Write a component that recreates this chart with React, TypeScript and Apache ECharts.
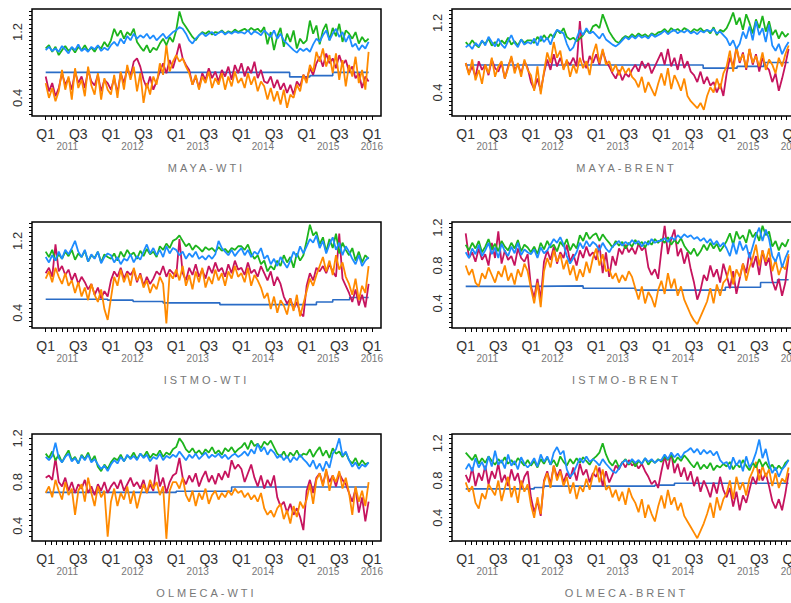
import React, { useEffect, useRef } from 'react';
import * as echarts from 'echarts';

// sample times (fractional years), one every 0.05 year from 2011.00 to 2015.95
const years: number[] = Array.from({ length: 100 }, (_, i) => 2011 + i * 0.05);

// ---------- MAYA-WTI ----------
const mayaWtiGreen = [
  1.00,1.04,0.96,1.02,0.92,0.98,1.03,0.97,1.01,0.95,1.02,0.98,1.04,0.97,1.01,0.96,1.03,1.00,1.08,1.02,
  1.10,1.24,1.15,1.22,1.12,1.20,1.16,1.24,1.08,1.02,0.97,1.04,0.95,1.01,0.98,1.06,1.12,1.04,1.14,1.08,
  1.22,1.45,1.32,1.26,1.20,1.14,1.10,1.16,1.20,1.18,1.21,1.17,1.20,1.19,1.22,1.18,1.21,1.19,1.23,1.20,
  1.22,1.24,1.21,1.25,1.22,1.24,1.20,1.26,1.05,1.20,0.98,1.15,1.25,1.02,1.18,1.08,1.22,1.00,1.12,1.06,
  1.10,1.34,1.18,1.28,1.05,1.22,1.30,1.10,1.25,1.15,1.30,1.08,1.22,1.18,1.12,1.20,1.06,1.14,1.08,1.12];
const mayaWtiBlue = [
  0.98,1.02,0.97,1.00,0.96,1.03,0.99,0.94,1.02,0.98,1.05,0.97,1.00,0.96,1.02,0.99,1.04,0.97,1.01,0.98,
  1.04,1.08,1.03,1.12,1.06,1.15,1.10,1.18,1.12,1.16,1.13,1.18,1.12,1.16,1.10,1.14,1.18,1.12,1.16,1.20,
  1.22,1.26,1.24,1.18,1.10,1.06,1.12,1.16,1.19,1.15,1.18,1.20,1.16,1.19,1.21,1.17,1.20,1.18,1.21,1.19,
  1.20,1.18,1.22,1.17,1.21,1.19,1.16,1.22,1.18,1.14,1.22,1.12,1.18,1.10,1.06,1.02,0.98,0.95,1.00,0.97,
  1.00,0.96,1.05,1.12,1.08,1.16,1.22,1.10,1.18,1.24,1.14,1.20,1.08,1.16,1.02,1.06,0.98,1.04,1.00,1.08];
const mayaWtiMagenta = [
  0.66,0.48,0.58,0.42,0.52,0.70,0.56,0.64,0.50,0.72,0.58,0.66,0.52,0.74,0.60,0.55,0.68,0.48,0.62,0.58,
  0.50,0.64,0.46,0.70,0.58,0.76,0.66,0.84,0.88,0.78,0.62,0.52,0.66,0.50,0.60,0.72,0.82,0.70,0.86,0.76,
  0.90,1.06,0.88,0.80,0.74,0.56,0.66,0.52,0.70,0.62,0.76,0.64,0.72,0.60,0.74,0.66,0.78,0.62,0.80,0.70,
  0.82,0.66,0.78,0.70,0.84,0.64,0.74,0.60,0.58,0.66,0.52,0.62,0.50,0.58,0.46,0.56,0.44,0.60,0.54,0.68,
  0.62,0.76,0.68,0.82,0.90,0.78,0.94,0.82,0.88,0.76,0.92,0.80,0.86,0.72,0.78,0.64,0.70,0.52,0.66,0.60];
const mayaWtiOrange = [
  0.58,0.40,0.52,0.36,0.48,0.74,0.50,0.66,0.38,0.76,0.52,0.62,0.42,0.78,0.55,0.44,0.70,0.38,0.64,0.50,
  0.44,0.68,0.40,0.72,0.50,0.80,0.62,0.78,0.48,0.70,0.34,0.58,0.44,0.66,0.56,0.82,0.68,1.04,0.72,0.84,
  0.92,0.84,0.88,0.78,0.70,0.56,0.68,0.50,0.66,0.58,0.72,0.52,0.64,0.56,0.70,0.50,0.66,0.54,0.72,0.58,
  0.64,0.52,0.70,0.56,0.66,0.48,0.60,0.54,0.38,0.52,0.36,0.48,0.32,0.50,0.28,0.44,0.40,0.56,0.48,0.68,
  0.58,0.80,0.72,0.96,0.84,1.00,0.78,0.92,0.70,0.94,0.62,0.86,0.54,0.80,0.66,0.90,0.58,0.74,0.50,0.96];
const mayaWtiFlat = [[2011, 0.71], [2014.74, 0.655], [2015.05, 0.67], [2015.4, 0.71], [2015.95, 0.71]];

// ---------- MAYA-BRENT ----------
const mayaBrentGreen = [
  0.98,0.94,1.00,0.95,0.92,0.99,0.96,1.02,0.94,0.98,0.93,1.00,0.96,1.03,0.95,0.99,0.94,1.01,0.97,1.00,
  1.00,0.97,1.04,0.99,1.06,1.01,1.07,1.03,1.12,1.08,1.14,1.04,1.01,1.03,0.99,1.02,1.06,1.12,1.08,1.16,
  1.18,1.14,1.30,1.20,1.10,1.04,0.99,0.97,1.02,1.05,1.03,1.07,1.04,1.08,1.05,1.07,1.04,1.08,1.06,1.09,
  1.10,1.13,1.09,1.14,1.11,1.13,1.10,1.14,1.12,1.09,1.13,1.11,1.14,1.10,1.12,1.08,1.15,1.06,1.12,1.10,
  1.14,1.22,1.32,1.18,1.26,1.12,1.30,1.20,1.08,1.24,1.14,1.28,1.10,1.22,1.06,1.12,1.02,1.10,1.04,1.08];
const mayaBrentBlue = [
  0.92,0.95,0.90,0.97,0.93,1.00,0.94,1.04,0.98,0.93,1.02,0.95,0.91,0.99,1.06,0.97,0.92,1.01,0.95,0.98,
  0.96,1.02,0.94,1.05,0.98,1.03,0.95,1.06,1.12,1.10,1.08,0.96,0.88,0.92,1.02,1.12,1.06,1.14,1.08,1.10,
  1.06,1.02,1.08,1.01,0.98,0.95,0.93,0.96,1.00,1.04,1.01,1.05,1.02,1.06,1.03,1.05,1.02,1.07,1.04,1.06,
  1.08,1.11,1.07,1.10,1.12,1.08,1.11,1.09,1.12,1.08,1.10,1.07,1.11,1.09,1.12,1.10,1.13,1.08,1.10,1.06,
  1.02,0.94,1.00,0.90,0.96,1.10,1.02,1.16,1.00,1.22,1.06,1.14,0.98,1.18,0.94,0.88,0.96,0.84,0.92,0.98];
const mayaBrentMagenta = [
  0.74,0.62,0.70,0.58,0.76,0.66,0.72,0.60,0.78,0.68,0.64,0.74,0.56,0.70,0.80,0.66,0.72,0.62,0.76,0.68,
  0.52,0.44,0.56,0.42,0.62,0.78,0.66,0.84,0.70,0.80,0.68,0.76,0.72,0.80,0.70,1.22,0.78,0.68,0.82,0.74,
  0.84,0.72,0.88,0.76,0.70,0.62,0.56,0.66,0.54,0.62,0.58,0.66,0.72,0.64,0.76,0.68,0.74,0.62,0.70,0.78,
  0.86,0.72,0.90,0.70,0.80,0.66,0.84,0.68,0.76,0.64,0.60,0.52,0.64,0.50,0.58,0.48,0.52,0.40,0.50,0.36,
  0.62,0.80,0.70,0.92,0.74,0.86,0.66,0.90,0.72,0.84,0.64,0.80,0.70,0.66,0.52,0.62,0.42,0.56,0.72,0.90];
const mayaBrentOrange = [
  0.74,0.60,0.78,0.54,0.66,0.50,0.72,0.62,0.80,0.58,0.70,0.76,0.56,0.68,0.82,0.62,0.74,0.58,0.78,0.66,
  0.60,0.42,0.70,0.38,0.64,0.86,0.74,0.98,0.80,0.88,0.66,0.78,0.58,0.72,0.62,0.80,0.68,0.76,0.60,0.84,
  0.96,0.74,0.90,0.72,0.76,0.64,0.72,0.60,0.70,0.62,0.68,0.58,0.54,0.46,0.58,0.40,0.52,0.44,0.36,0.50,
  0.62,0.48,0.68,0.44,0.60,0.52,0.42,0.56,0.36,0.30,0.26,0.22,0.28,0.20,0.36,0.46,0.40,0.56,0.44,0.62,
  0.70,0.88,0.64,0.92,0.76,0.84,0.68,0.90,0.74,0.82,0.70,0.86,0.66,0.78,0.72,0.62,0.80,0.70,0.84,0.94];
const mayaBrentFlat = [[2011, 0.717], [2014.64, 0.68], [2015.16, 0.70], [2015.57, 0.745], [2015.95, 0.745]];

// ---------- ISTMO-WTI ----------
const istmoWtiGreen = [
  1.08,1.02,1.10,0.98,1.05,1.00,1.08,1.03,1.10,0.99,1.06,1.02,1.09,0.97,1.04,1.01,1.08,0.96,1.05,1.02,
  1.00,1.06,0.98,1.08,1.02,1.10,1.04,1.07,1.00,1.09,1.03,1.11,1.05,1.08,1.02,1.14,1.10,1.17,1.12,1.20,
  1.22,1.26,1.20,1.14,1.17,1.10,1.15,1.12,1.08,1.13,1.10,1.12,1.08,1.13,1.09,1.11,1.07,1.12,1.10,1.14,
  1.14,1.10,1.16,1.06,1.00,1.04,0.94,0.98,0.86,0.92,0.88,0.98,0.92,1.04,0.96,1.02,0.90,1.06,0.98,1.04,
  1.20,1.38,1.26,1.30,1.16,1.24,1.08,1.22,1.12,1.28,1.06,1.18,1.10,1.04,1.12,0.98,1.08,0.96,1.04,1.00];
const istmoWtiBlue = [
  1.02,0.96,1.04,0.98,1.08,1.00,1.10,1.05,1.12,1.20,1.08,1.02,1.10,0.97,1.05,1.00,1.08,0.95,1.02,1.06,
  1.04,0.96,1.02,0.94,1.00,0.98,1.05,0.96,1.03,0.99,1.08,1.16,1.06,1.12,1.04,1.10,1.02,1.14,1.06,1.12,
  1.10,1.04,1.08,1.00,1.06,1.02,1.08,1.00,1.03,0.99,1.04,1.00,1.05,1.20,1.12,1.08,1.04,1.10,1.03,1.08,
  1.12,1.04,1.10,1.02,1.08,1.05,1.12,1.00,1.04,0.94,1.00,0.92,1.02,0.96,0.90,0.98,1.08,1.02,1.14,1.06,
  1.14,1.22,1.18,1.26,1.12,1.20,1.06,1.16,1.24,1.10,1.18,1.04,1.14,1.08,1.00,0.94,1.04,0.92,0.98,1.02];
const istmoWtiMagenta = [
  0.84,0.90,0.80,1.16,0.86,0.92,0.82,0.88,0.76,0.84,0.72,0.80,0.74,0.66,0.72,0.60,0.68,0.56,0.64,0.58,
  0.76,0.86,0.80,0.90,0.78,0.86,0.82,0.88,0.74,0.84,0.70,0.80,0.72,0.78,0.86,0.82,0.92,0.80,0.88,0.84,
  0.80,1.22,0.84,0.76,0.90,0.82,0.94,0.80,0.88,0.78,0.92,0.84,0.96,0.86,0.90,0.80,0.94,0.84,0.98,0.88,
  0.90,0.82,0.96,0.84,0.88,0.80,0.92,0.84,0.76,0.86,0.70,0.80,0.72,0.58,0.50,0.56,0.44,0.52,0.40,0.36,
  0.70,0.84,0.76,0.90,0.86,0.92,0.84,0.94,0.86,0.80,1.28,0.78,0.70,0.62,0.52,0.66,0.48,0.60,0.46,0.72];
const istmoWtiOrange = [
  0.78,0.86,0.74,0.90,0.80,0.72,0.84,0.70,0.76,0.62,0.74,0.58,0.68,0.54,0.72,0.60,0.52,0.66,0.44,0.32,
  0.56,0.80,0.70,0.88,0.74,0.84,0.70,0.90,0.76,0.82,0.68,0.76,0.62,0.72,0.66,0.80,0.72,0.28,0.84,0.78,
  0.88,0.76,0.92,0.70,0.82,0.66,0.86,0.74,0.90,0.68,0.80,0.72,0.88,0.76,0.84,0.70,0.86,0.78,0.92,0.80,
  0.84,0.74,0.90,0.70,0.82,0.76,0.68,0.56,0.62,0.44,0.58,0.40,0.54,0.48,0.38,0.56,0.42,0.60,0.36,0.50,
  0.64,0.78,0.70,0.82,0.92,1.02,0.86,0.98,0.82,1.04,0.88,0.96,0.80,0.72,0.60,0.78,0.54,0.70,0.62,0.92];
const istmoWtiFlat = [[2011, 0.55], [2011.95, 0.54], [2012.34, 0.525], [2012.8, 0.51], [2013.67, 0.49], [2015.15, 0.52], [2015.4, 0.545], [2015.66, 0.57], [2015.95, 0.57]];

// ---------- ISTMO-BRENT ----------
const istmoBrentGreen = [
  1.02,0.96,1.04,0.98,1.06,0.94,1.00,1.08,0.97,1.03,0.95,1.06,1.00,0.96,1.04,0.98,1.07,0.95,1.02,0.99,
  0.94,1.00,0.92,1.04,0.97,1.06,0.99,1.02,0.95,1.05,1.00,1.08,0.96,1.03,0.98,1.12,1.06,1.15,1.08,1.12,
  1.14,1.06,1.13,1.08,1.04,0.99,1.06,1.01,1.05,0.98,1.04,1.00,1.07,1.02,1.05,0.99,1.06,1.02,1.08,1.04,
  1.08,1.04,1.10,1.02,1.07,1.03,1.09,1.01,0.96,0.92,0.98,0.90,0.95,1.02,0.96,1.04,0.98,1.03,0.95,1.00,
  1.06,1.14,1.02,1.16,1.08,1.12,1.04,1.18,1.10,1.15,1.06,1.22,1.12,1.16,1.00,1.06,0.96,1.04,1.00,1.08];
const istmoBrentBlue = [
  0.94,0.88,0.98,0.92,1.02,0.90,0.96,1.04,0.92,0.99,0.88,1.03,0.95,0.90,1.00,0.93,1.04,0.91,0.97,0.94,
  0.92,0.97,0.88,0.99,0.93,0.96,1.02,1.08,1.04,1.10,1.02,0.90,0.82,0.88,0.94,1.04,0.98,1.06,1.00,1.05,
  1.02,0.96,1.04,0.98,0.94,1.00,1.03,1.06,1.01,1.05,1.02,1.07,1.03,1.06,1.00,1.05,1.02,1.08,1.04,1.06,
  1.06,1.09,1.05,1.10,1.07,1.12,1.09,1.13,1.10,1.12,1.08,1.10,1.06,1.09,1.04,1.08,1.02,1.06,1.00,1.04,
  0.98,0.90,1.04,0.92,1.06,0.96,1.02,0.88,1.00,1.12,1.20,1.06,1.18,1.08,0.90,0.84,0.94,0.78,0.88,0.96];
const istmoBrentMagenta = [
  1.14,0.88,0.94,0.84,0.98,0.86,0.92,0.80,1.04,0.88,1.16,0.82,0.96,0.86,0.90,0.80,0.98,0.88,0.84,0.92,
  0.58,0.46,0.66,0.44,0.84,0.96,0.86,1.00,0.82,0.94,0.88,1.02,0.84,0.92,0.80,0.96,0.88,1.00,0.90,0.94,
  0.86,1.02,0.72,0.94,0.68,0.90,0.80,0.98,0.92,1.02,0.94,0.99,0.92,1.03,0.96,1.00,0.78,0.70,0.76,0.66,
  0.96,1.22,0.92,1.08,1.18,0.90,0.98,0.82,0.94,0.76,0.62,0.44,0.54,0.70,0.64,0.80,0.68,0.76,0.62,0.82,
  0.70,0.56,0.74,0.50,0.66,0.82,0.72,0.94,0.78,0.90,0.70,0.96,0.80,0.88,0.64,0.54,0.66,0.48,0.62,0.90];
const istmoBrentOrange = [
  0.80,0.70,0.76,0.62,0.58,0.72,0.66,0.78,0.70,0.62,0.74,0.68,0.80,0.64,0.72,0.60,0.76,0.68,0.82,0.74,
  0.56,0.40,0.62,0.36,0.74,0.88,0.78,0.96,0.84,0.92,0.76,0.86,0.70,0.80,0.64,0.76,0.68,0.84,0.72,0.88,
  0.98,0.80,0.92,0.74,0.76,0.66,0.72,0.62,0.70,0.64,0.74,0.68,0.56,0.44,0.58,0.40,0.52,0.46,0.36,0.54,
  0.64,0.50,0.72,0.56,0.66,0.48,0.58,0.44,0.36,0.28,0.22,0.18,0.26,0.34,0.42,0.56,0.40,0.60,0.48,0.62,
  0.66,0.80,0.60,0.76,0.68,0.82,0.64,0.78,0.88,1.02,0.80,0.96,0.84,0.98,0.74,0.86,0.70,0.80,0.76,0.92];
const istmoBrentFlat = [[2011, 0.58], [2012.05, 0.585], [2012.8, 0.56], [2013.6, 0.54], [2014.98, 0.57], [2015.52, 0.62], [2015.78, 0.65], [2015.95, 0.65]];

// ---------- OLMECA-WTI ----------
const olmecaWtiGreen = [
  1.06,1.02,1.08,1.00,1.05,0.98,1.04,1.09,1.00,1.03,0.97,1.05,1.01,1.07,0.99,1.04,0.94,0.90,0.96,0.92,
  0.98,1.02,1.00,1.05,0.99,1.04,1.02,1.07,1.01,1.06,1.03,1.08,1.02,1.06,1.04,1.09,1.03,1.07,1.05,1.10,
  1.12,1.20,1.16,1.10,1.07,1.11,1.06,1.09,1.05,1.10,1.07,1.12,1.06,1.09,1.05,1.11,1.08,1.12,1.07,1.10,
  1.12,1.16,1.10,1.18,1.13,1.15,1.11,1.17,1.14,1.18,1.12,1.06,1.03,1.08,1.02,1.07,1.04,1.09,1.03,1.06,
  1.05,1.10,1.03,1.08,1.12,1.04,1.09,1.02,1.11,1.06,1.08,1.03,1.07,1.00,0.97,1.02,0.95,1.00,0.96,0.98];
const olmecaWtiBlue = [
  1.03,1.00,1.04,1.16,1.02,0.98,1.03,1.06,0.99,1.02,0.97,1.04,1.00,1.05,0.98,1.01,0.96,0.92,0.95,0.90,
  0.96,1.00,0.97,1.03,0.99,1.05,1.01,1.04,1.00,1.06,1.02,1.05,0.99,1.03,1.01,1.06,1.00,1.04,1.02,1.05,
  1.03,1.08,1.04,1.00,1.05,1.02,1.06,1.01,1.04,1.07,1.02,1.05,1.03,1.06,1.02,1.05,1.01,1.04,1.06,1.03,
  1.05,1.08,1.04,1.10,1.06,1.15,1.08,1.12,1.05,1.10,1.07,1.02,1.05,1.00,1.04,0.98,1.03,1.00,1.05,1.01,
  0.98,0.94,1.00,0.92,0.97,0.90,0.99,0.93,1.06,1.10,1.20,1.04,1.08,1.00,0.94,0.98,0.92,0.96,0.94,0.98];
const olmecaWtiMagenta = [
  0.84,0.86,0.82,1.02,0.80,0.76,0.84,0.72,0.80,0.70,0.78,0.74,0.82,0.70,0.76,0.68,0.78,0.72,0.80,0.70,
  0.76,0.80,0.74,0.82,0.72,0.78,0.84,0.76,0.80,0.74,0.82,0.70,0.78,0.72,0.96,0.76,0.84,0.70,0.80,0.86,
  0.88,1.02,0.84,0.78,0.86,0.80,0.88,0.76,0.84,0.90,0.80,0.86,0.78,0.88,0.82,0.90,0.84,1.00,0.92,0.96,
  0.92,0.80,0.88,0.96,0.84,0.76,0.86,0.74,0.82,0.76,0.86,0.66,0.58,0.62,0.52,0.60,0.50,0.56,0.48,0.36,
  0.72,0.82,0.70,0.84,0.88,0.78,0.90,0.80,0.86,0.76,0.88,0.82,0.78,0.70,0.62,0.74,0.52,0.66,0.44,0.62];
const olmecaWtiOrange = [
  0.70,0.76,0.66,0.82,0.72,0.64,0.80,0.68,0.74,0.50,0.72,0.78,0.62,0.84,0.70,0.58,0.76,0.66,0.72,0.30,
  0.62,0.74,0.58,0.70,0.64,0.76,0.60,0.72,0.56,0.68,0.78,0.70,0.82,0.74,0.80,0.68,0.76,0.28,0.72,0.80,
  0.80,0.74,0.84,0.68,0.62,0.72,0.58,0.70,0.64,0.74,0.60,0.68,0.72,0.64,0.70,0.66,0.72,0.68,0.74,0.70,
  0.72,0.66,0.70,0.64,0.68,0.62,0.70,0.56,0.50,0.54,0.48,0.56,0.60,0.46,0.54,0.42,0.58,0.48,0.62,0.56,
  0.64,0.78,0.60,0.82,0.88,0.76,0.92,0.72,0.86,0.80,0.90,0.74,0.84,0.70,0.50,0.76,0.62,0.72,0.58,0.80];
const olmecaWtiFlat = [[2011, 0.705], [2013.0, 0.715], [2013.85, 0.755], [2015.95, 0.755]];

// ---------- OLMECA-BRENT ----------
const olmecaBrentGreen = [
  1.10,1.06,1.02,1.08,0.98,1.04,0.99,1.06,1.01,0.97,1.03,0.99,1.05,0.98,1.02,0.97,1.04,1.00,0.96,1.02,
  0.96,1.01,0.94,1.03,0.98,1.05,0.97,1.02,0.95,1.06,1.00,0.96,1.03,0.98,1.04,0.99,1.05,1.01,0.97,1.03,
  1.06,1.10,1.20,1.08,1.00,0.96,1.02,0.94,0.99,1.03,0.97,1.02,0.95,1.01,0.98,1.04,0.97,1.02,0.99,1.03,
  1.00,1.06,1.02,1.08,0.99,1.05,1.01,1.07,1.03,0.98,0.94,1.00,0.92,0.97,0.93,0.99,0.91,0.96,0.94,0.98,
  0.95,1.00,0.92,0.98,0.94,1.02,0.96,0.91,0.99,0.94,1.03,0.95,1.00,0.93,0.97,0.91,0.96,0.92,0.99,1.02];
const olmecaBrentBlue = [
  0.92,0.98,0.90,1.04,0.94,1.00,0.91,1.06,0.95,1.12,0.97,1.02,0.93,1.08,0.96,1.01,0.92,1.05,0.98,0.94,
  0.98,1.04,0.95,1.08,1.00,1.06,0.97,1.10,1.16,1.08,1.12,0.92,0.84,0.88,0.96,1.04,0.99,1.06,1.00,1.03,
  1.00,0.96,1.03,0.98,0.94,0.90,0.88,0.93,0.99,1.02,0.98,1.03,0.99,1.02,0.98,1.04,1.00,1.03,0.99,1.02,
  1.02,1.08,1.03,1.10,1.05,1.09,1.04,1.10,1.12,1.15,1.10,1.14,1.08,1.13,1.09,1.12,1.07,1.11,1.02,0.98,
  1.00,0.92,1.05,0.96,1.02,0.90,1.06,0.94,1.00,1.10,1.24,1.04,1.14,0.98,0.88,0.94,0.84,0.92,0.96,1.02];
const olmecaBrentMagenta = [
  0.86,0.78,0.94,0.74,0.88,0.80,0.96,0.76,0.90,0.82,0.98,0.78,0.86,0.74,0.92,0.80,0.88,0.72,0.84,0.90,
  0.62,0.46,0.58,0.42,0.80,0.90,0.76,0.96,0.84,0.92,0.78,0.88,0.82,0.94,0.80,0.98,0.86,0.92,0.78,0.88,
  0.84,0.94,0.74,0.90,0.78,0.86,0.96,0.92,1.00,0.94,1.02,0.96,0.99,0.93,0.98,0.90,0.84,0.76,0.80,0.72,
  0.90,1.06,0.92,1.10,0.88,0.98,0.84,0.94,0.80,0.90,0.74,0.84,0.68,0.80,0.72,0.62,0.78,0.66,0.84,0.70,
  0.62,0.72,0.52,0.68,0.48,0.64,0.56,0.70,0.84,0.76,0.92,0.80,0.88,0.74,0.58,0.50,0.60,0.48,0.66,0.88];
const olmecaBrentOrange = [
  0.78,0.68,0.74,0.56,0.50,0.66,0.60,0.76,0.70,0.64,0.80,0.58,0.72,0.84,0.62,0.74,0.56,0.80,0.68,0.76,
  0.54,0.40,0.62,0.44,0.78,0.88,0.72,0.96,0.80,0.90,0.74,0.84,0.66,0.78,0.60,0.74,0.68,0.82,0.70,0.86,
  0.96,0.78,0.92,0.70,0.74,0.62,0.70,0.58,0.68,0.54,0.72,0.62,0.56,0.46,0.60,0.40,0.54,0.44,0.36,0.52,
  0.64,0.50,0.70,0.54,0.62,0.48,0.56,0.42,0.36,0.30,0.24,0.18,0.26,0.34,0.44,0.56,0.40,0.62,0.48,0.60,
  0.66,0.80,0.60,0.84,0.70,0.78,0.64,0.82,0.90,1.00,0.80,0.96,0.84,0.92,0.74,0.88,0.72,0.82,0.78,0.94];
const olmecaBrentFlat = [[2011, 0.71], [2012.05, 0.725], [2012.2, 0.74], [2013.9, 0.75], [2014.2, 0.77], [2015.95, 0.77]];

// ---------- tick labels ----------
const quarterLabelValues = [2011, 2011.5, 2012, 2012.5, 2013, 2013.5, 2014, 2014.5, 2015, 2015.5, 2016];
const yearLabelValues = [2011.33, 2012.33, 2013.33, 2014.33, 2015.33, 2016];
const monthTickValues: number[] = Array.from({ length: 61 }, (_, m) => 2011 + m / 12);

const panels = [
  { title: 'MAYA-WTI', green: mayaWtiGreen, blue: mayaWtiBlue, magenta: mayaWtiMagenta, orange: mayaWtiOrange, flat: mayaWtiFlat, yMin: 0.18, yMax: 1.48, yLabels: [0.4, 1.2] },
  { title: 'MAYA-BRENT', green: mayaBrentGreen, blue: mayaBrentBlue, magenta: mayaBrentMagenta, orange: mayaBrentOrange, flat: mayaBrentFlat, yMin: 0.13, yMax: 1.36, yLabels: [0.4, 1.2] },
  { title: 'ISTMO-WTI', green: istmoWtiGreen, blue: istmoWtiBlue, magenta: istmoWtiMagenta, orange: istmoWtiOrange, flat: istmoWtiFlat, yMin: 0.23, yMax: 1.41, yLabels: [0.4, 1.2] },
  { title: 'ISTMO-BRENT', green: istmoBrentGreen, blue: istmoBrentBlue, magenta: istmoBrentMagenta, orange: istmoBrentOrange, flat: istmoBrentFlat, yMin: 0.14, yMax: 1.26, yLabels: [0.4, 0.8, 1.2] },
  { title: 'OLMECA-WTI', green: olmecaWtiGreen, blue: olmecaWtiBlue, magenta: olmecaWtiMagenta, orange: olmecaWtiOrange, flat: olmecaWtiFlat, yMin: 0.26, yMax: 1.24, yLabels: [0.4, 0.8, 1.2] },
  { title: 'OLMECA-BRENT', green: olmecaBrentGreen, blue: olmecaBrentBlue, magenta: olmecaBrentMagenta, orange: olmecaBrentOrange, flat: olmecaBrentFlat, yMin: 0.15, yMax: 1.30, yLabels: [0.4, 0.8, 1.2] },
];

const COLORS = { green: '#1db41d', blue: '#1e8cff', magenta: '#c6145e', orange: '#ff8a00', flat: '#2a6cc6' };
const FONT = 'Liberation Sans, Arial, sans-serif';

export default function App() {
  const ref = useRef<HTMLDivElement>(null);
  useEffect(() => {
    if (!ref.current) return;
    const chart = echarts.init(ref.current, undefined, { renderer: 'svg' });
    const colLeft = [32, 452];
    const rowTop = [9, 222, 434];
    const rowHeight = [107, 106, 107];
    const grids: any[] = [];
    const xAxes: any[] = [];
    const yAxes: any[] = [];
    const series: any[] = [];
    panels.forEach((p, k) => {
      const row = Math.floor(k / 2);
      const col = k % 2;
      grids.push({
        left: colLeft[col], top: rowTop[row], width: 349, height: rowHeight[row],
        show: true, borderColor: '#000', borderWidth: 1.5, backgroundColor: 'transparent',
        containLabel: false, outerBoundsMode: 'none',
      });
      const xmin = 2010.79, xmax = 2016.14;
      xAxes.push({
        type: 'value', gridIndex: k, min: xmin, max: xmax, position: 'bottom',
        axisLine: { show: false }, splitLine: { show: false },
        axisTick: { show: true, customValues: monthTickValues, length: 4, lineStyle: { color: '#000', width: 1 } },
        axisLabel: {
          customValues: quarterLabelValues, margin: 11, fontSize: 14, color: '#333', fontFamily: FONT,
          hideOverlap: false, showMaxLabel: true, showMinLabel: true,
          formatter: (v: number) => (Math.abs(v - Math.round(v)) < 0.01 ? 'Q1' : 'Q3'),
        },
      });
      xAxes.push({
        type: 'value', gridIndex: k, min: xmin, max: xmax, position: 'bottom',
        axisLine: { show: false }, splitLine: { show: false }, axisTick: { show: false },
        axisLabel: {
          customValues: yearLabelValues, margin: 25, fontSize: 10, color: '#777', fontFamily: FONT,
          formatter: (v: number) => String(Math.floor(v + 0.01)),
        },
        name: p.title, nameLocation: 'middle', nameGap: 46,
        nameTextStyle: { fontSize: 11, color: '#777', fontFamily: FONT },
      });
      const yTicks: number[] = [];
      for (let t = 0.1; t < 1.6; t += 0.05) {
        const r = Math.round(t * 100) / 100;
        if (r >= p.yMin && r <= p.yMax) yTicks.push(r);
      }
      yAxes.push({
        type: 'value', gridIndex: k, min: p.yMin, max: p.yMax,
        axisLine: { show: false }, splitLine: { show: false },
        axisTick: { show: true, customValues: yTicks, length: 3, lineStyle: { color: '#000' } },
        axisLabel: {
          customValues: p.yLabels, rotate: 90, margin: 8, fontSize: 13, color: '#333', fontFamily: FONT,
          formatter: (v: number) => v.toFixed(1),
        },
      });
      const base = { type: 'line', xAxisIndex: 2 * k, yAxisIndex: k, symbol: 'none', silent: true };
      series.push({ ...base, step: 'end', data: p.flat, lineStyle: { color: COLORS.flat, width: 1.6 } });
      const pts = (arr: number[]) => arr.map((v, i) => [years[i], v]);
      series.push({ ...base, data: pts(p.magenta), lineStyle: { color: COLORS.magenta, width: 1.8 } });
      series.push({ ...base, data: pts(p.orange), lineStyle: { color: COLORS.orange, width: 1.8 } });
      series.push({ ...base, data: pts(p.green), lineStyle: { color: COLORS.green, width: 1.8 } });
      series.push({ ...base, data: pts(p.blue), lineStyle: { color: COLORS.blue, width: 1.8 } });
    });
    chart.setOption({
      animation: false,
      backgroundColor: '#fff',
      textStyle: { fontFamily: FONT },
      grid: grids, xAxis: xAxes, yAxis: yAxes, series,
    });
    const titles = panels.map(p => p.title);
    const svg = ref.current.querySelector('svg');
    if (svg) {
      svg.querySelectorAll('text').forEach(t => {
        if (titles.includes((t.textContent || '').trim())) t.setAttribute('letter-spacing', '3');
      });
    }
    return () => chart.dispose();
  }, []);
  return (
    <div style={{ position: 'fixed', left: 0, top: 0, width: 791, height: 603, background: '#fff', overflow: 'hidden' }}>
      <div ref={ref} style={{ width: 791, height: 603 }} />
    </div>
  );
}
